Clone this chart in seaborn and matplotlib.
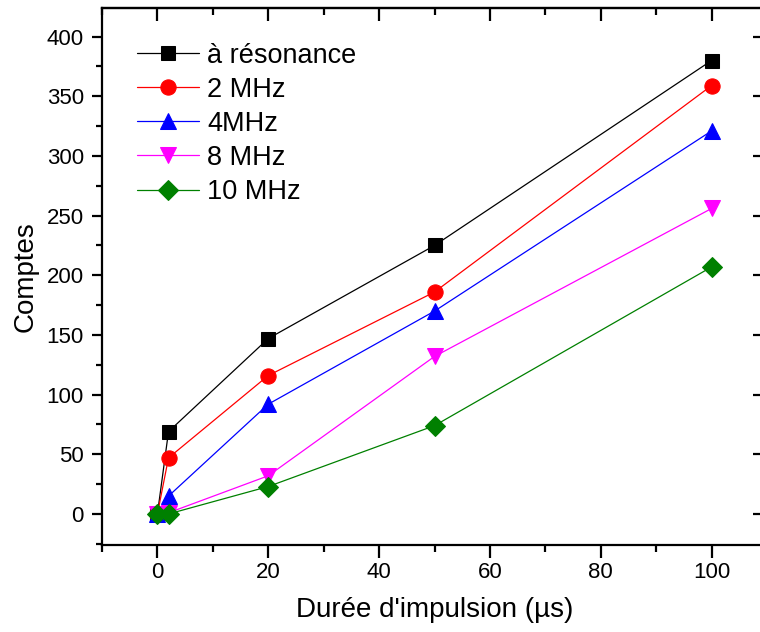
import matplotlib
matplotlib.use("Agg")
import matplotlib.pyplot as plt
import seaborn as sns
import pandas as pd
from matplotlib.ticker import MultipleLocator

durations = [0, 2, 20, 50, 100]
resonance = [0, 69, 147, 225, 380]
mhz2 = [0, 47, 116, 186, 359]
mhz4 = [0, 15, 92, 170, 321]
mhz8 = [0, 1, 32, 132, 256]
mhz10 = [0, 0, 23, 74, 207]

labels = ["à résonance", "2 MHz", "4MHz", "8 MHz", "10 MHz"]
series = [resonance, mhz2, mhz4, mhz8, mhz10]
colors = ["black", "red", "blue", "magenta", "green"]
markers = ["s", "o", "^", "v", "D"]
msizes = [10, 11, 12, 12, 10]

sns.set_style("ticks")
plt.rcParams["font.family"] = ["Liberation Sans", "DejaVu Sans"]
plt.rcParams["text.color"] = "black"
plt.rcParams["axes.labelcolor"] = "black"
plt.rcParams["xtick.color"] = "black"
plt.rcParams["ytick.color"] = "black"

fig = plt.figure(figsize=(7.6, 6.32), dpi=100)
ax = fig.add_axes([102/760, 87/632, (767-102)/760, (624-87)/632])

for lab, vals, c, m, ms in zip(labels, series, colors, markers, msizes):
    df = pd.DataFrame({"x": durations, "y": vals})
    sns.lineplot(data=df, x="x", y="y", ax=ax, color=c, marker=m,
                 markersize=ms, markeredgecolor=c, linewidth=0.9,
                 label=lab, sort=False)

ax.set_xlim(-10, 110)
ax.set_ylim(-26, 424)
ax.xaxis.set_major_locator(MultipleLocator(20))
ax.xaxis.set_minor_locator(MultipleLocator(10))
ax.yaxis.set_major_locator(MultipleLocator(50))
ax.yaxis.set_minor_locator(MultipleLocator(25))

for sp in ax.spines.values():
    sp.set_linewidth(1.6)
    sp.set_color("black")

ax.tick_params(axis="both", which="major", direction="out", length=7, width=1.6,
               labelsize=16, colors="black")
ax.tick_params(axis="both", which="minor", direction="out", length=4, width=1.6)
ax.tick_params(axis="x", which="major", length=9)
ax.tick_params(axis="x", which="minor", length=5)
ax.tick_params(axis="y", which="major", pad=6)

sec_x = ax.secondary_xaxis("top")
sec_x.xaxis.set_major_locator(MultipleLocator(20))
sec_x.xaxis.set_minor_locator(MultipleLocator(10))
sec_x.tick_params(which="major", direction="in", length=9, width=1.6, labeltop=False)
sec_x.tick_params(which="minor", direction="in", length=5, width=1.6)
sec_x.spines["top"].set_linewidth(1.6)

sec_y = ax.secondary_yaxis("right")
sec_y.yaxis.set_major_locator(MultipleLocator(50))
sec_y.yaxis.set_minor_locator(MultipleLocator(25))
sec_y.tick_params(which="major", direction="in", length=10, width=1.6, labelright=False)
sec_y.tick_params(which="minor", direction="in", length=5, width=1.6)

ax.set_xlabel("Durée d'impulsion (µs)", fontsize=20, labelpad=10)
ax.set_ylabel("Comptes", fontsize=20, labelpad=6)

leg = ax.legend(loc="upper left", bbox_to_anchor=(0.028, 0.966), frameon=False,
                fontsize=19.5, handlelength=2.3, labelspacing=0.30,
                handletextpad=0.3, borderaxespad=0.2)

fig.savefig("out.png", dpi=100)
